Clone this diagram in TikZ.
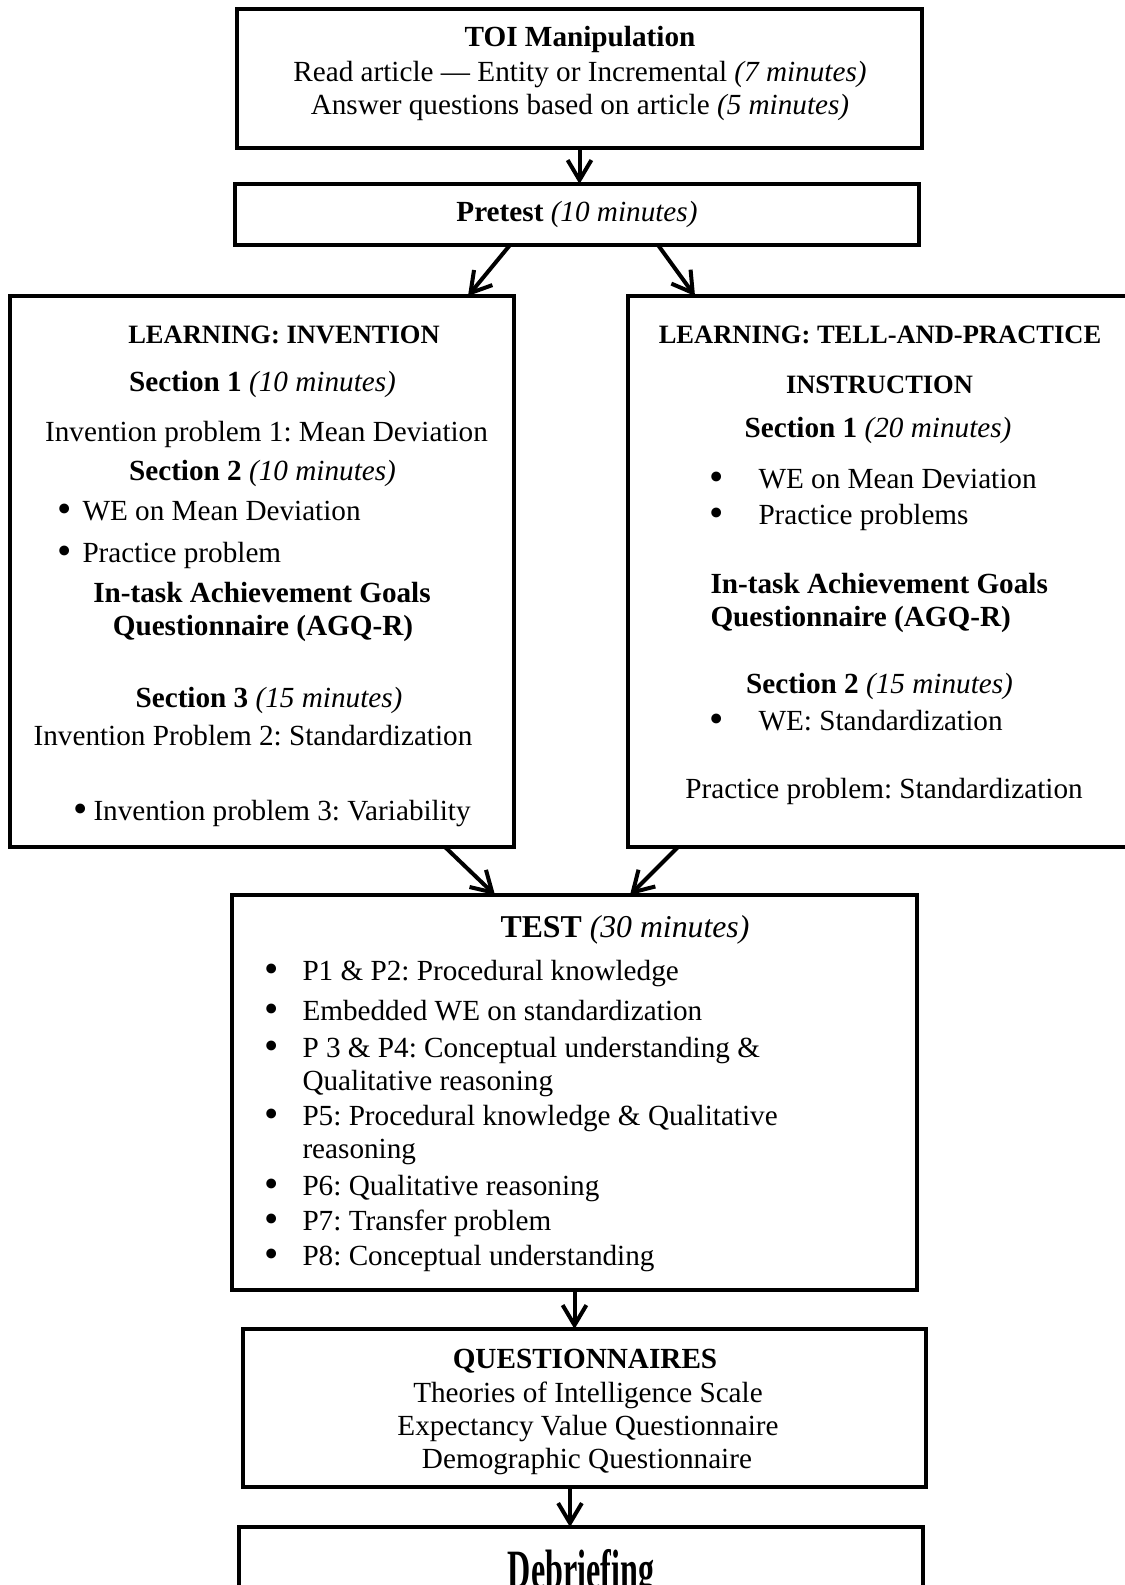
\documentclass[tikz,border=0pt]{standalone}
\usepackage{fontspec}
\usepackage{graphicx}
\setmainfont{Liberation Serif}
\usetikzlibrary{arrows.meta,calc}
\newcommand\fsz{\fontsize{11.68pt}{14pt}\selectfont\frenchspacing}
\newcommand\fsh{\fontsize{10.6pt}{13pt}\selectfont\frenchspacing}
\newcommand\ftest{\fontsize{12.7pt}{15pt}\selectfont\frenchspacing}
\newcommand\bul{\raisebox{-0.1em}[0.5em][0pt]{\scalebox{1.4}{•}}}
\begin{document}
\begin{tikzpicture}[x=0.4pt,y=-0.4pt,
  box/.style={draw,line width=1.6pt,anchor=north west,inner sep=0pt,outer sep=0pt},
  tx/.style={inner sep=0pt,anchor=base,font=\fsz},
  tl/.style={inner sep=0pt,anchor=base west,font=\fsz},
  hd/.style={inner sep=0pt,anchor=base,font=\fsh\bfseries},
  arr/.style={line width=1.6pt,-{Straight Barb[length=8pt,width=9.5pt]}}]
\fill[white] (0,0) rectangle (1125,1585);
\clip (0,0) rectangle (1125,1585);

% boxes
\node[box,minimum width=685*0.4pt,minimum height=139*0.4pt] (top) at (237,9) {};
\node[box,minimum width=684*0.4pt,minimum height=61*0.4pt] (pre) at (235,184) {};
\node[box,minimum width=504*0.4pt,minimum height=551*0.4pt] (left) at (10,296) {};
\node[box,minimum width=520*0.4pt,minimum height=551*0.4pt] (right) at (628,296) {};
\node[box,minimum width=685*0.4pt,minimum height=395*0.4pt] (test) at (232,895) {};
\node[box,minimum width=683*0.4pt,minimum height=158*0.4pt] (quest) at (243,1329) {};
\node[box,minimum width=684*0.4pt,minimum height=120*0.4pt] (deb) at (239,1527) {};

% arrows
\draw[arr] (top.south) -- (top.south |- pre.north);
\draw[arr] ($(pre.south west)+(275,0)$) -- ($(left.north east)+(-46,0)$);
\draw[arr] ($(pre.south west)+(423,0)$) -- ($(right.north west)+(67,0)$);
\draw[arr] ($(left.south east)+(-69,0)$) -- ($(test.north west)+(263,0)$);
\draw[arr] ($(right.south west)+(50,0)$) -- ($(test.north west)+(398,0)$);
\draw[arr] (test.south) -- (test.south |- quest.north);
\draw[arr] ($(quest.south west)+(327,0)$) -- ($(deb.north west)+(331,0)$);

% top box
\node[tx,font=\fsz\bfseries] (t1) at (580,47) {TOI Manipulation};
\node[tx] (t2) at (580,82) {Read article — Entity or Incremental \textit{(7 minutes)}};
\node[tx] (t3) at (580,115) {Answer questions based on article \textit{(5 minutes)}};
\node[tx] (t4) at (577,222) {\textbf{Pretest} \textit{(10 minutes)}};

% left box
\node[hd] (l1) at (284,343) {LEARNING: INVENTION};
\node[tx] (l2) at (262.5,391) {\textbf{Section 1} \textit{(10 minutes)}};
\node[tx] (l3) at (266.5,441) {Invention problem 1: Mean Deviation};
\node[tx] (l4) at (262.5,480) {\textbf{Section 2} \textit{(10 minutes)}};
\node[tl] (l5b) at (57,520) {\bul};
\node[tl] (l5) at (82,520) {WE on Mean Deviation};
\node[tl] (l6b) at (57,562) {\bul};
\node[tl] (l6) at (82,562) {Practice problem};
\node[tx,font=\fsz\bfseries] (l7) at (262,602) {In-task Achievement Goals};
\node[tx,font=\fsz\bfseries] (l8) at (263,635) {Questionnaire (AGQ-R)};
\node[tx] (l9) at (269,707) {\textbf{Section 3} \textit{(15 minutes)}};
\node[tx] (l10) at (253,745) {Invention Problem 2: Standardization};
\node[tl] (l11b) at (73,820) {\bul};
\node[tl] (l11) at (93,820) {Invention problem 3: Variability};

% right box
\node[hd] (r1) at (880,343) {LEARNING: TELL-AND-PRACTICE};
\node[hd] (r2) at (879.5,393) {INSTRUCTION};
\node[tx] (r3) at (878,437) {\textbf{Section 1} \textit{(20 minutes)}};
\node[tl] (r4b) at (709,488) {\bul};
\node[tl] (r4) at (758,488) {WE on Mean Deviation};
\node[tl] (r5b) at (709,524) {\bul};
\node[tl] (r5) at (758,524) {Practice problems};
\node[tl,font=\fsz\bfseries] (r6) at (710,593) {In-task Achievement Goals};
\node[tl,font=\fsz\bfseries] (r7) at (710,626) {Questionnaire (AGQ-R)};
\node[tx] (r8) at (879.5,693) {\textbf{Section 2} \textit{(15 minutes)}};
\node[tl] (r9b) at (709,730) {\bul};
\node[tl] (r9) at (758,730) {WE: Standardization};
\node[tx] (r10) at (884,798) {Practice problem: Standardization};

% test box
\node[tx,font=\ftest] (e0) at (625,937) {\textbf{TEST} \textit{(30 minutes)}};
\node[tl] (e1b) at (264,980) {\bul};
\node[tl] (e1) at (302,980) {P1 \& P2: Procedural knowledge};
\node[tl] (e2b) at (264,1020) {\bul};
\node[tl] (e2) at (302,1020) {Embedded WE on standardization};
\node[tl] (e3b) at (264,1057) {\bul};
\node[tl] (e3) at (302,1057) {P 3 \& P4: Conceptual understanding \&};
\node[tl] (e3c) at (302,1090) {Qualitative reasoning};
\node[tl] (e4b) at (264,1125) {\bul};
\node[tl] (e4) at (302,1125) {P5: Procedural knowledge \& Qualitative};
\node[tl] (e4c) at (302,1158) {reasoning};
\node[tl] (e5b) at (264,1195) {\bul};
\node[tl] (e5) at (302,1195) {P6: Qualitative reasoning};
\node[tl] (e6b) at (264,1230) {\bul};
\node[tl] (e6) at (302,1230) {P7: Transfer problem};
\node[tl] (e7b) at (264,1265) {\bul};
\node[tl] (e7) at (302,1265) {P8: Conceptual understanding};

% questionnaires
\node[tx,font=\fsz\bfseries] (q1) at (585,1368) {QUESTIONNAIRES};
\node[tx] (q2) at (588,1402) {Theories of Intelligence Scale};
\node[tx] (q3) at (588,1435) {Expectancy Value Questionnaire};
\node[tx] (q4) at (587,1468) {Demographic Questionnaire};

% debriefing
\node[inner sep=0pt,anchor=north] (d1) at (581,1549) {\scalebox{1.1}[1.9]{\fsz\bfseries Debriefing}};
\end{tikzpicture}
\end{document}
